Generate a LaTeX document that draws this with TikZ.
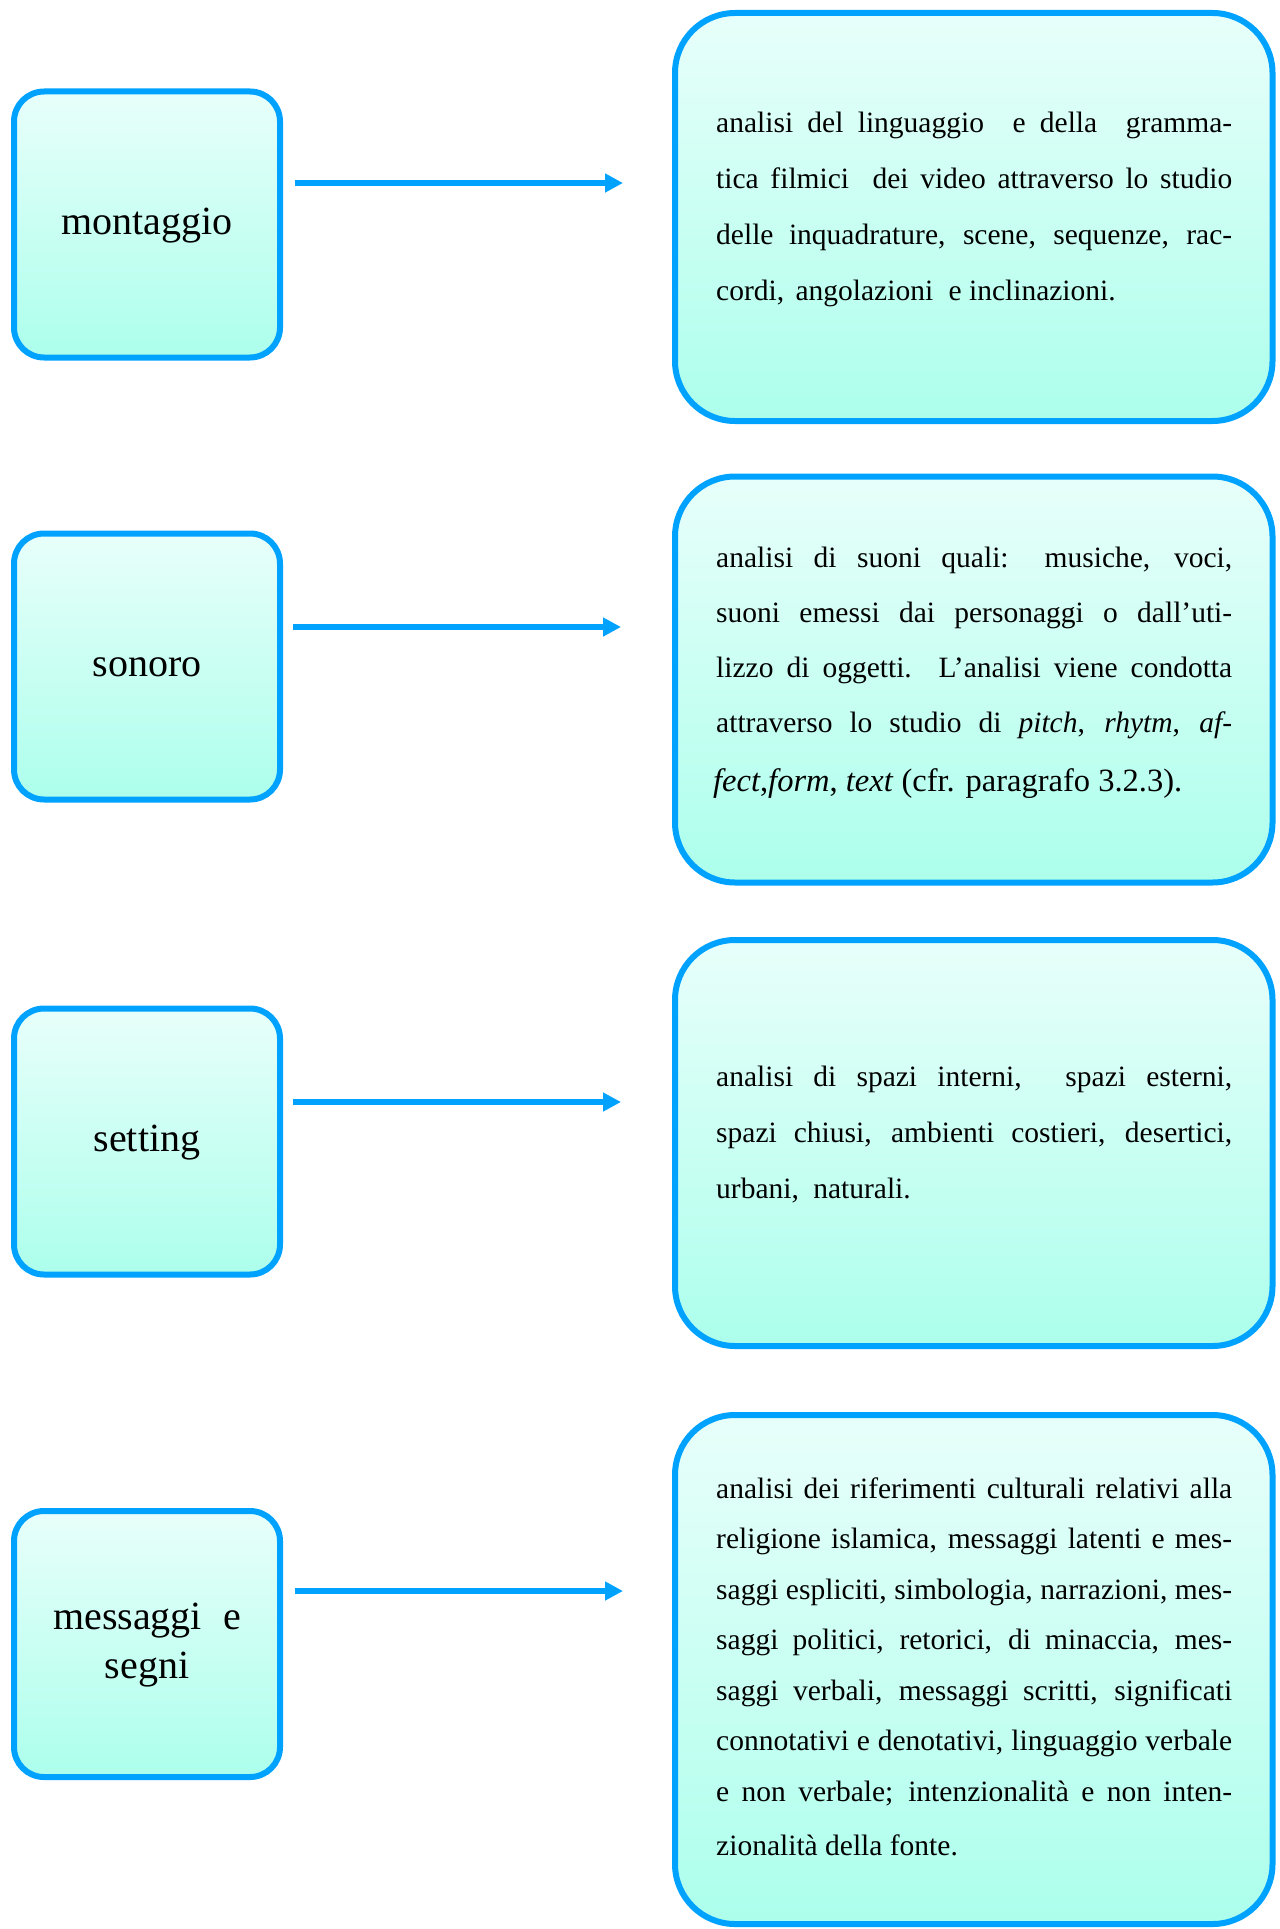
\documentclass[tikz,border=0pt]{standalone}
\usepackage{fontspec}
\setmainfont{Liberation Serif}
\usetikzlibrary{arrows.meta}
\definecolor{bordblue}{RGB}{0,162,255}
\definecolor{filltop}{RGB}{232,255,250}
\definecolor{fillbot}{RGB}{172,255,236}
\newcommand{\jl}[1]{\hbox to 516pt{#1}}
\newcommand{\lastl}[1]{\hbox to 516pt{#1\hfil}}
\newcommand{\rtext}[2]{\vtop{\hsize=516pt\parindent=0pt\lineskiplimit=-100pt
  \fontsize{29.5pt}{#1}\selectfont #2}}
\newcommand{\ltext}[1]{\raisebox{-5pt}{\begin{tabular}{@{}c@{}}#1\end{tabular}}}
\tikzset{
  lbox/.style={draw=bordblue, line width=6pt, rounded corners=30pt,
    top color=filltop, bottom color=fillbot,
    minimum width=266pt, minimum height=266pt, inner sep=0pt,
    align=center, font=\fontsize{40pt}{49pt}\selectfont},
  rbox/.style={draw=bordblue, line width=6pt, rounded corners=60pt,
    top color=filltop, bottom color=fillbot,
    minimum width=597.5pt, inner sep=0pt},
  rtxt/.style={anchor=base west, inner sep=0pt},
  conn/.style={draw=bordblue, line width=5.5pt,
    -{Triangle[length=18pt,width=18pt]}}
}
\begin{document}
\begin{tikzpicture}[x=1pt,y=-1pt]
\useasboundingbox (0,0) rectangle (1279,1929);

% left boxes
\node[lbox] (m) at (147,224.5) {\ltext{montaggio}};
\node[lbox] (s) at (147,666.5) {\ltext{sonoro}};
\node[lbox] (t) at (147,1141.5) {\ltext{setting}};
\node[lbox] (g) at (147,1644) {\ltext{messaggi\hspace{11pt} e\\segni}};

% right boxes
\node[rbox, minimum height=408pt] (rm) at (973.75,217) {};
\node[rbox, minimum height=406pt] (rs) at (973.75,679.5) {};
\node[rbox, minimum height=406pt] (rt) at (973.75,1143) {};
\node[rbox, minimum height=509pt] (rg) at (973.75,1669.5) {};

% texts of right boxes
\node[rtxt] (tm) at (716,132.7) {\rtext{56pt}{%
  \jl{analisi del linguaggio \ e della \ gramma-}
  \jl{tica filmici \ dei video attraverso lo studio}
  \jl{delle inquadrature, scene, sequenze, rac-}
  \lastl{cordi,\hspace{4pt} angolazioni\hspace{8pt} e inclinazioni.}}};

\node[rtxt] (ts) at (716,567) {\rtext{55pt}{%
  \jl{analisi di suoni quali: musiche, voci,}
  \jl{suoni emessi dai personaggi o dall’uti-}
  \jl{lizzo di oggetti. L’analisi viene condotta}
  \jl{attraverso lo studio di \textit{pitch}, \textit{rhytm}, \textit{af-}}
  \vskip4pt
  \lastl{\fontsize{32.5pt}{55pt}\selectfont\kern-3pt\textit{fect},\textit{form}, \textit{text} (cfr. paragrafo 3.2.3).}}};

\node[rtxt] (tt) at (716,1086) {\rtext{56pt}{%
  \jl{analisi di spazi interni, \ spazi esterni,}
  \jl{spazi chiusi, ambienti costieri, desertici,}
  \lastl{urbani,\hspace{7pt} naturali.}}};

\node[rtxt] (tg) at (716,1498) {\rtext{50.5pt}{%
  \jl{analisi dei riferimenti culturali relativi alla}
  \jl{religione islamica, messaggi latenti e mes-}
  \jl{saggi espliciti, simbologia, narrazioni, mes-}
  \jl{saggi politici, retorici, di minaccia, mes-}
  \jl{saggi verbali, messaggi scritti, significati}
  \jl{connotativi e denotativi, linguaggio verbale}
  \jl{e non verbale; intenzionalità e non inten-}
  \vskip4pt
  \lastl{zionalità della fonte.}}};

% arrows
\coordinate (a1s) at (295,183);
\coordinate (a1e) at (623,183);
\coordinate (a2s) at (293,627);
\coordinate (a2e) at (621,627);
\coordinate (a3s) at (293,1102);
\coordinate (a3e) at (621,1102);
\coordinate (a4s) at (295,1591);
\coordinate (a4e) at (623,1591);
\draw[conn] (a1s) -- (a1e);
\draw[conn] (a2s) -- (a2e);
\draw[conn] (a3s) -- (a3e);
\draw[conn] (a4s) -- (a4e);
\end{tikzpicture}
\end{document}
